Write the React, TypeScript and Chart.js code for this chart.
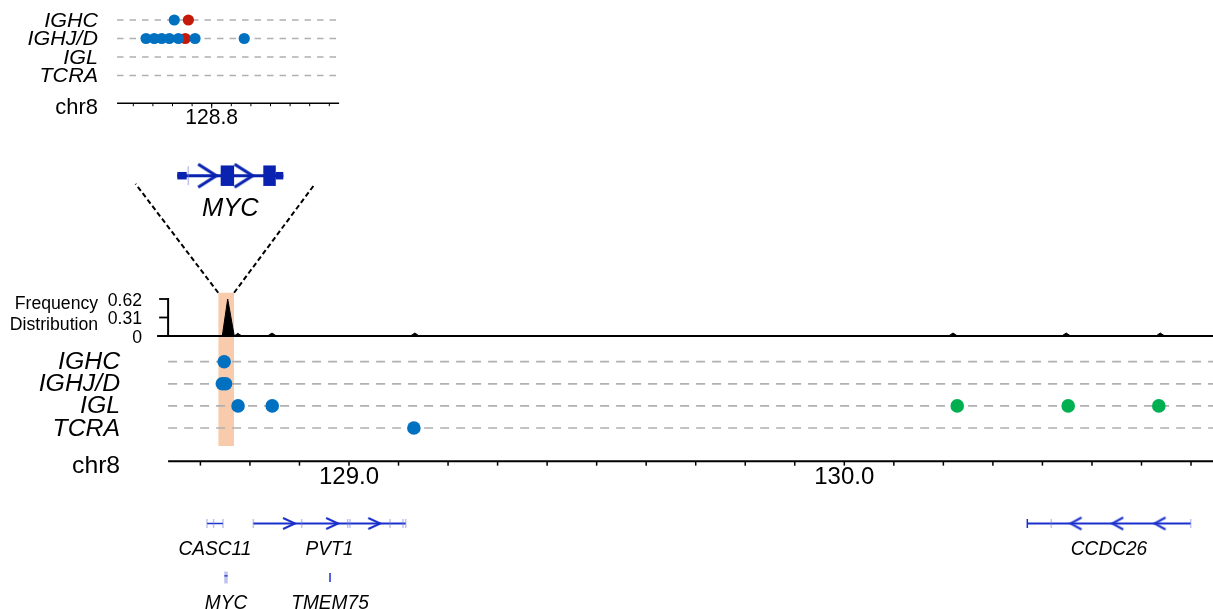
import React, { useEffect, useRef } from 'react';
import { Chart, registerables } from 'chart.js';

Chart.register(...registerables);

const W = 1213;
const H = 609;

// ---------------- data ----------------
const rowLabels = ['IGHC', 'IGHJ/D', 'IGL', 'TCRA'];

// main panel breakpoints (chr8, Mb)
const mainBlueRow = ['IGHC', 'IGHJ/D', 'IGHJ/D', 'IGL', 'IGL', 'TCRA'];
const mainBluePos = [128.748, 128.7442, 128.7508, 128.776, 128.845, 129.131];
const mainGreenRow = ['IGL', 'IGL', 'IGL'];
const mainGreenPos = [130.228, 130.452, 130.635];

// inset (zoomed) breakpoints
const insetBlueRow = ['IGHC', 'IGHJ/D', 'IGHJ/D', 'IGHJ/D', 'IGHJ/D', 'IGHJ/D', 'IGHJ/D', 'IGHJ/D'];
const insetBluePos = [128.7809, 128.7665, 128.7707, 128.7745, 128.7784, 128.783, 128.7915, 128.8166];
const insetRedRow = ['IGHC', 'IGHJ/D'];
const insetRedPos = [128.7881, 128.7865];

// frequency distribution
const freqPos = [128.637, 128.7442, 128.7551, 128.7684, 128.7755, 128.784, 128.8355, 128.8446, 128.8535,
  129.124, 129.133, 129.142, 130.2105, 130.2195, 130.2285, 130.439, 130.448, 130.457, 130.629, 130.638, 130.647, 130.745];
const freqVal = [0, 0, 0.62, 0, 0.045, 0, 0, 0.05, 0, 0, 0.05, 0, 0, 0.05, 0, 0, 0.05, 0, 0, 0.05, 0, 0];
const freqTickVals = [0, 0.31, 0.62];
const freqTickText = ['0', '0.31', '0.62'];

// axes
const mainTickPos = [128.7, 128.8, 128.9, 129.0, 129.1, 129.2, 129.3, 129.4, 129.5, 129.6, 129.7,
  129.8, 129.9, 130.0, 130.1, 130.2, 130.3, 130.4, 130.5, 130.6, 130.7];
const mainLabelPos = [129.0, 130.0];
const mainLabelText = ['129.0', '130.0'];
const mainAxisStart = 128.6348;
const mainAxisEnd = 130.75;
const insetTickPos = [128.76, 128.77, 128.78, 128.79, 128.8, 128.81, 128.82, 128.83, 128.84, 128.85, 128.86];
const insetLabelPos = [128.8];
const insetLabelText = ['128.8'];
const insetAxisStart = 128.7517;
const insetAxisEnd = 128.865;

// highlighted MYC region and zoom fan
const highlightStart = 128.736;
const highlightEnd = 128.768;
const zoomFanLeft = 128.569;
const zoomFanRight = 128.9314;

// gene annotation track
const geneName = ['CASC11', 'PVT1', 'CCDC26', 'MYC', 'TMEM75'];
const geneStart = [128.7133, 128.8068, 130.3695, 128.7517, 128.9617];
const geneEnd = [128.7456, 129.1145, 130.6994, 128.7517, 128.9617];
const geneTrack = [0, 0, 0, 1, 1];
const forwardArrowPos = [128.879, 128.966, 129.051];
const reverseArrowPos = [130.4678, 130.552, 130.6374];
const lightTickPos = [128.7133, 128.7266, 128.7456, 128.8068, 128.9045, 128.9974, 129.002, 129.0828, 129.109, 129.1145, 130.4179, 130.6994];
const lightTickTrack = [0, 0, 0, 0, 0, 0, 0, 0, 0, 0, 0, 0];
const darkTickPos = [130.3695, 128.9617];
const darkTickTrack = [0, 1];
const mycBarPos = [128.7517];
const mycBarTrack = [1];

// MYC gene model (zoom detail)
const mycTxStart = 128.748315;
const mycTxEnd = 128.75368;
const mycUtrStart = [128.748315, 128.7533];
const mycUtrEnd = [128.748791, 128.75368];
const mycCdsStart = [128.75051, 128.752668];
const mycCdsEnd = [128.75119, 128.7533];
const mycArrowPos = [128.749828, 128.751666];
const mycTssPos = [128.748872];

// ---------------- styling ----------------
const BLUE = '#0070C0';
const RED = '#C41A0B';
const GREEN = '#00B050';
const PEACH = '#F8CBAD';
const GENE = '#1a30cc';
const GENE_DARK = '#0a22b0';
const GENE_LIGHT = 'rgba(110,125,220,0.45)';
const GRID = '#b0b0b0';
const FONT = '"Liberation Sans", Arial, Helvetica, sans-serif';

// value->pixel anchoring helper (chart area = full canvas)
function lin(v0: number, p0: number, v1: number, p1: number, size: number) {
  const range = ((v1 - v0) * size) / (p1 - p0);
  const min = v0 - (p0 / size) * range;
  return { min, max: min + range };
}

function scaleCfg(axis: 'x' | 'y', r: { min: number; max: number }, reverse = false) {
  return {
    type: 'linear',
    axis,
    position: axis === 'x' ? 'bottom' : 'left',
    display: false,
    min: r.min,
    max: r.max,
    reverse,
    bounds: 'data',
    grid: { display: false },
    ticks: { display: false },
  };
}

function chevron(w: number, h: number, lw: number, color: string, dir: number) {
  const c = document.createElement('canvas');
  const pad = Math.ceil(lw * 2);
  c.width = w + 2 * pad;
  c.height = h + 2 * pad;
  const g = c.getContext('2d')!;
  g.strokeStyle = color;
  g.lineWidth = lw;
  g.lineJoin = 'miter';
  g.beginPath();
  if (dir > 0) {
    g.moveTo(pad, pad);
    g.lineTo(pad + w, pad + h / 2);
    g.lineTo(pad, pad + h);
  } else {
    g.moveTo(pad + w, pad);
    g.lineTo(pad, pad + h / 2);
    g.lineTo(pad + w, pad + h);
  }
  g.stroke();
  return c;
}

function drawText(ctx: CanvasRenderingContext2D, text: string, x: number, y: number, size: number,
  align: CanvasTextAlign, italic = false, sx = 1) {
  ctx.save();
  ctx.translate(x, y);
  ctx.scale(sx, 1);
  ctx.font = `${italic ? 'italic ' : ''}${size}px ${FONT}`;
  ctx.textAlign = align;
  ctx.textBaseline = 'alphabetic';
  ctx.fillStyle = '#000';
  ctx.fillText(text, 0, 0);
  ctx.restore();
}

function seg(ctx: CanvasRenderingContext2D, x1: number, y1: number, x2: number, y2: number, w: number) {
  ctx.save();
  ctx.strokeStyle = '#000';
  ctx.lineWidth = w;
  ctx.beginPath();
  ctx.moveTo(x1, y1);
  ctx.lineTo(x2, y2);
  ctx.stroke();
  ctx.restore();
}

const MAIN_AXIS_ROW = 4.5;
const INSET_AXIS_ROW = 4.5;
const HIGHLIGHT_TOP_ROW = -3.12;
const HIGHLIGHT_BOTTOM_ROW = 3.81;
const FAN_TOP_ROW = -8.05;

const decor = {
  id: 'decor',
  afterDatasetsDraw(chart: any) {
    const ctx = chart.ctx as CanvasRenderingContext2D;
    const { x, xi, xm, yr, yi, yf, yg, yd } = chart.scales;

    // ---- main panel ----
    const x0 = x.getPixelForValue(mainAxisStart);
    const xEnd = x.getPixelForValue(mainAxisEnd);
    rowLabels.forEach((r, i) => drawText(ctx, r, x0 - 48, yr.getPixelForValue(i) + 7.5, 23, 'right', true, 1.08));
    const axY = yr.getPixelForValue(MAIN_AXIS_ROW);
    drawText(ctx, 'chr8', x0 - 48, axY + 11.5, 24, 'right', false, 1.03);
    seg(ctx, x0, axY, xEnd, axY, 2);
    mainTickPos.forEach((v) => {
      const px = x.getPixelForValue(v);
      seg(ctx, px, axY, px, axY + 4.5, 1.5);
    });
    mainLabelPos.forEach((v, i) => drawText(ctx, mainLabelText[i], x.getPixelForValue(v), axY + 22.5, 24, 'center', false, 1.0));

    // ---- frequency axis ----
    const f0 = yf.getPixelForValue(0);
    const fTop = yf.getPixelForValue(0.62);
    seg(ctx, x0, fTop - 1, x0, f0, 2);
    seg(ctx, x0 - 11, f0, xEnd, f0, 2);
    freqTickVals.forEach((v, i) => {
      const py = yf.getPixelForValue(v);
      if (v !== 0) seg(ctx, x0 - 9, py, x0, py, 1.8);
      drawText(ctx, freqTickText[i], x0 - 26, py + 6.5, 18, 'right', false, 0.98);
    });
    drawText(ctx, 'Frequency', x0 - 70, fTop + 9.5, 18, 'right', false, 0.98);
    drawText(ctx, 'Distribution', x0 - 70, f0 - 6.5, 18, 'right', false, 0.98);

    // ---- inset ----
    const xi0 = xi.getPixelForValue(insetAxisStart);
    const xi1 = xi.getPixelForValue(insetAxisEnd);
    const iAxY = yi.getPixelForValue(INSET_AXIS_ROW);
    rowLabels.forEach((r, i) => drawText(ctx, r, xi0 - 19, yi.getPixelForValue(i) + 6.5, 20.5, 'right', true, 1.05));
    drawText(ctx, 'chr8', xi0 - 19, iAxY + 11, 21.5, 'right', false, 1.02);
    seg(ctx, xi0, iAxY, xi1, iAxY, 1.5);
    insetTickPos.forEach((v) => {
      const px = xi.getPixelForValue(v);
      seg(ctx, px, iAxY, px, iAxY + 3, 1);
    });
    insetLabelPos.forEach((v, i) => {
      const px = xi.getPixelForValue(v);
      seg(ctx, px, iAxY, px, iAxY + 5, 1);
      drawText(ctx, insetLabelText[i], px, iAxY + 20.5, 21.5, 'center', false, 0.98);
    });

    // ---- gene labels ----
    geneName.forEach((n, i) => {
      const px = x.getPixelForValue((geneStart[i] + geneEnd[i]) / 2);
      drawText(ctx, n, px, yg.getPixelForValue(geneTrack[i]) + 31, 19.5, 'center', true, 0.98);
    });

    // ---- MYC model label ----
    drawText(ctx, 'MYC', xm.getPixelForValue((mycTxStart + mycTxEnd) / 2), yd.getPixelForValue(0) + 40.5, 25.5, 'center', true, 1.0);
  },
};

function buildConfig() {
  const rowIdx = (r: string) => rowLabels.indexOf(r);
  const ds: any[] = [];
  const lineBase = { pointRadius: 0, fill: false, tension: 0, borderCapStyle: 'butt' };

  // highlight band
  ds.push({
    ...lineBase,
    data: [{ x: highlightStart, y: HIGHLIGHT_TOP_ROW }, { x: highlightEnd, y: HIGHLIGHT_TOP_ROW }],
    xAxisID: 'x', yAxisID: 'yr', borderWidth: 0, borderColor: 'rgba(0,0,0,0)',
    fill: { value: HIGHLIGHT_BOTTOM_ROW }, backgroundColor: PEACH, order: 20,
  });

  // dashed row lines (main + inset)
  rowLabels.forEach((_, i) => {
    ds.push({
      ...lineBase,
      data: [{ x: mainAxisStart, y: i }, { x: mainAxisEnd, y: i }],
      xAxisID: 'x', yAxisID: 'yr', borderColor: GRID, borderWidth: 1.7, borderDash: [9, 7], order: 15,
    });
    ds.push({
      ...lineBase,
      data: [{ x: insetAxisStart, y: i }, { x: insetAxisEnd, y: i }],
      xAxisID: 'xi', yAxisID: 'yi', borderColor: GRID, borderWidth: 1.5, borderDash: [6.5, 6], order: 15,
    });
  });

  // frequency distribution
  ds.push({
    ...lineBase,
    data: freqPos.map((p, i) => ({ x: p, y: freqVal[i] })),
    xAxisID: 'x', yAxisID: 'yf', borderColor: '#000', borderWidth: 1, fill: 'origin', backgroundColor: '#000', order: 10,
  });

  // zoom fan connectors
  ds.push({
    ...lineBase,
    data: [{ x: highlightStart, y: HIGHLIGHT_TOP_ROW }, { x: zoomFanLeft, y: FAN_TOP_ROW }],
    xAxisID: 'x', yAxisID: 'yr', borderColor: '#000', borderWidth: 2, borderDash: [5, 3], order: 10,
  });
  ds.push({
    ...lineBase,
    data: [{ x: highlightEnd, y: HIGHLIGHT_TOP_ROW }, { x: zoomFanRight, y: FAN_TOP_ROW }],
    xAxisID: 'x', yAxisID: 'yr', borderColor: '#000', borderWidth: 2, borderDash: [5, 3], order: 10,
  });

  // MYC gene model
  ds.push({
    ...lineBase,
    data: [{ x: mycTxStart, y: 0 }, { x: mycTxEnd, y: 0 }],
    xAxisID: 'xm', yAxisID: 'yd', borderColor: GENE_DARK, borderWidth: 3, order: 6,
  });
  mycUtrStart.forEach((s, i) => ds.push({
    ...lineBase,
    data: [{ x: s, y: 0 }, { x: mycUtrEnd[i], y: 0 }],
    xAxisID: 'xm', yAxisID: 'yd', borderColor: GENE_DARK, borderWidth: 7.5, order: 5,
  }));
  mycCdsStart.forEach((s, i) => ds.push({
    ...lineBase,
    data: [{ x: s, y: 0 }, { x: mycCdsEnd[i], y: 0 }],
    xAxisID: 'xm', yAxisID: 'yd', borderColor: GENE_DARK, borderWidth: 20.5, order: 5,
  }));
  ds.push({
    data: mycTssPos.map((p) => ({ x: p, y: 0 })), showLine: false,
    xAxisID: 'xm', yAxisID: 'yd', pointStyle: 'line', pointRotation: 90, pointRadius: 9.5,
    pointBorderColor: GENE_LIGHT, pointBorderWidth: 1.5, order: 4,
  });
  ds.push({
    data: mycArrowPos.map((p) => ({ x: p, y: 0 })), showLine: false,
    xAxisID: 'xm', yAxisID: 'yd', pointStyle: chevron(18, 23, 3.2, GENE_DARK, 1), pointRadius: 10, order: 4,
  });

  // gene annotation track
  geneName.forEach((_, i) => {
    if (geneEnd[i] > geneStart[i]) {
      ds.push({
        ...lineBase,
        data: [{ x: geneStart[i], y: geneTrack[i] }, { x: geneEnd[i], y: geneTrack[i] }],
        xAxisID: 'x', yAxisID: 'yg', borderColor: GENE, borderWidth: i === 0 ? 1.5 : 2, order: 6,
      });
    }
  });
  ds.push({
    data: forwardArrowPos.map((p) => ({ x: p, y: 0 })), showLine: false,
    xAxisID: 'x', yAxisID: 'yg', pointStyle: chevron(12, 11, 2, GENE, 1), pointRadius: 7, order: 4,
  });
  ds.push({
    data: reverseArrowPos.map((p) => ({ x: p, y: 0 })), showLine: false,
    xAxisID: 'x', yAxisID: 'yg', pointStyle: chevron(11, 12, 2, GENE, -1), pointRadius: 7, order: 4,
  });
  ds.push({
    data: lightTickPos.map((p, i) => ({ x: p, y: lightTickTrack[i] })), showLine: false,
    xAxisID: 'x', yAxisID: 'yg', pointStyle: 'line', pointRotation: 90, pointRadius: 4.5,
    pointBorderColor: GENE_LIGHT, pointBorderWidth: 1.5, order: 5,
  });
  ds.push({
    data: mycBarPos.map((p, i) => ({ x: p, y: mycBarTrack[i] })), showLine: false,
    xAxisID: 'x', yAxisID: 'yg', pointStyle: 'line', pointRotation: 90, pointRadius: 6,
    pointBorderColor: GENE_LIGHT, pointBorderWidth: 3.5, order: 5,
  });
  ds.push({
    data: mycBarPos.map((p, i) => ({ x: p, y: mycBarTrack[i] - 0.03 })), showLine: false,
    xAxisID: 'x', yAxisID: 'yg', pointStyle: 'line', pointRadius: 1.6,
    pointBorderColor: GENE, pointBorderWidth: 1.3, order: 4,
  });
  ds.push({
    data: darkTickPos.map((p, i) => ({ x: p, y: darkTickTrack[i] })), showLine: false,
    xAxisID: 'x', yAxisID: 'yg', pointStyle: 'line', pointRotation: 90, pointRadius: 4.5,
    pointBorderColor: GENE, pointBorderWidth: 1.5, order: 4,
  });

  // breakpoints
  const dot = { showLine: false, pointBorderWidth: 0, pointBorderColor: 'rgba(0,0,0,0)' };
  ds.push({
    ...dot, data: insetRedPos.map((p, i) => ({ x: p, y: rowIdx(insetRedRow[i]) })),
    xAxisID: 'xi', yAxisID: 'yi', pointRadius: 5.6, pointBackgroundColor: RED, order: 3,
  });
  ds.push({
    ...dot, data: insetBluePos.map((p, i) => ({ x: p, y: rowIdx(insetBlueRow[i]) })),
    xAxisID: 'xi', yAxisID: 'yi', pointRadius: 5.6, pointBackgroundColor: BLUE, order: 2,
  });
  ds.push({
    ...dot, data: mainBluePos.map((p, i) => ({ x: p, y: rowIdx(mainBlueRow[i]) })),
    xAxisID: 'x', yAxisID: 'yr', pointRadius: 6.8, pointBackgroundColor: BLUE, order: 1,
  });
  ds.push({
    ...dot, data: mainGreenPos.map((p, i) => ({ x: p, y: rowIdx(mainGreenRow[i]) })),
    xAxisID: 'x', yAxisID: 'yr', pointRadius: 6.8, pointBackgroundColor: GREEN, order: 1,
  });

  return {
    type: 'line',
    data: { datasets: ds },
    options: {
      responsive: false,
      animation: false,
      devicePixelRatio: 1,
      events: [],
      layout: { padding: 0, autoPadding: false },
      plugins: { legend: { display: false }, tooltip: { enabled: false }, title: { display: false } },
      scales: {
        x: scaleCfg('x', lin(128.7, 200.4, 130.0, 844.3, W)),
        xi: scaleCfg('x', lin(128.8, 211.7, 128.81, 231.3, W)),
        xm: scaleCfg('x', lin(mycTxStart, 177.3, mycTxEnd, 283.3, W)),
        y: scaleCfg('y', { min: 0, max: 1 }),
        yr: scaleCfg('y', lin(0, 361.7, 3, 428, H), true),
        yi: scaleCfg('y', lin(0, 20, 3, 75.5, H), true),
        yf: scaleCfg('y', lin(0, H - 336, 0.62, H - 299, H)),
        yg: scaleCfg('y', lin(0, 523.5, 1, 577.5, H), true),
        yd: scaleCfg('y', lin(0, 175.7, 1, 176.7, H), true),
      },
    },
    plugins: [decor],
  };
}

export default function App() {
  const ref = useRef<HTMLCanvasElement>(null);
  useEffect(() => {
    const chart = new Chart(ref.current as HTMLCanvasElement, buildConfig() as any);
    return () => chart.destroy();
  }, []);
  return (
    <div style={{ position: 'absolute', left: 0, top: 0, width: W, height: H, background: '#fff' }}>
      <canvas ref={ref} width={W} height={H} style={{ display: 'block', width: W, height: H }} />
    </div>
  );
}
